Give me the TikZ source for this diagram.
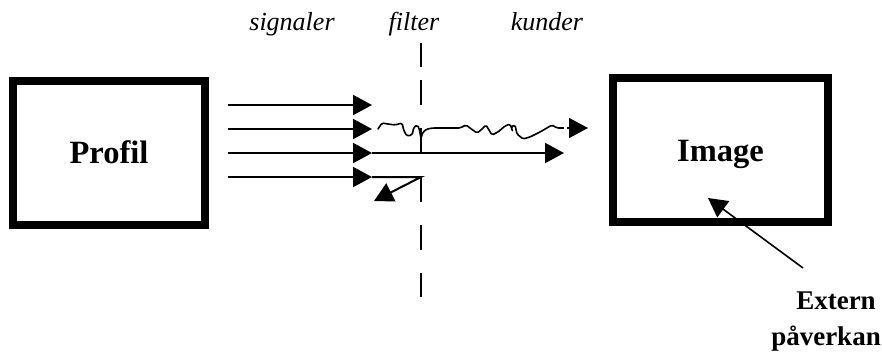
\documentclass[tikz,border=0pt]{standalone}
\usepackage{fontspec}
\setmainfont{Liberation Serif}
\usetikzlibrary{arrows.meta}
\begin{document}
\begin{tikzpicture}[x=1pt,y=-1pt,
  box/.style={draw, line width=8pt, inner sep=0pt},
  big/.style={font=\fontsize{32.5}{32.5}\selectfont\bfseries},
  ext/.style={font=\fontsize{27}{27}\selectfont\bfseries},
  lbl/.style={font=\fontsize{26}{26}\selectfont\itshape, anchor=base},
  sig/.style={line width=2pt, -{Triangle[length=19pt,width=20pt]}},
  filt/.style={line width=2pt}]
\useasboundingbox (0,0) rectangle (882,354);
% boxes
\node[box, minimum width=192pt, minimum height=144pt] (profil) at (109,153) {};
\node[big, anchor=base] (ptext) at (109,163) {Profil};
\node[box, minimum width=215pt, minimum height=144pt] (image) at (720.5,150) {};
\node[big, anchor=base] (itext) at (720.5,161) {Image};
% labels
\node[lbl] (signaler) at (292,30) {signaler};
\node[lbl] (filter) at (414,30) {filter};
\node[lbl] (kunder) at (547,30) {kunder};
\node[ext, anchor=base] (extern) at (836,309) {Extern};
\node[ext, anchor=base] (paverkan) at (826,345) {påverkan};
% filter line
\coordinate (f1a) at (421,43); \coordinate (f1b) at (421,67);
\coordinate (f2a) at (421,80); \coordinate (f2b) at (421,105);
\coordinate (f3a) at (421,128); \coordinate (f3b) at (421,153);
\coordinate (f4a) at (421,177); \coordinate (f4b) at (421,202);
\coordinate (f5a) at (421,225); \coordinate (f5b) at (421,250);
\coordinate (f6a) at (421,273); \coordinate (f6b) at (421,297);
\foreach \i in {1,...,6} {\draw[filt] (f\i a) -- (f\i b);}
% signal arrows
\foreach \n/\y in {1/105,2/129,3/153,4/177} {
  \coordinate (s\n) at (228,\y);
  \coordinate (t\n) at (372,\y);
  \draw[sig] (s\n) -- (t\n);
}
% through arrow
\coordinate (thru) at (564,153);
\draw[sig] (t3) -- (thru);
% reflected arrow
\coordinate (refl) at (374,201);
\draw[sig] (t4) -- (f4a) -- (refl);
% wavy line
\coordinate (w0) at (378,129);
\coordinate (wend) at (561,128);
\coordinate (wtip) at (588,128);
\draw[line width=1.6pt, line join=round, line cap=round, rounded corners=1.5pt]
  (w0) -- (382,123) -- (388,124) -- (395,125) -- (402,123) -- (404,131) -- (407,136)
  -- (412,135) -- (414,127) -- (417,125) -- (419,128) -- (421,138) -- (423,132)
  -- (427,129) -- (433,128) -- (447,128) -- (460,128) -- (466,125) -- (470,128)
  -- (477,133) -- (481,130) -- (486,125) -- (492,135) -- (498,132) -- (505,126)
  -- (510,124) -- (513,132) -- (511,127) -- (515,125) -- (517,134) -- (523,139)
  -- (530,137) -- (540,132) -- (552,125) -- (557,128) -- (wend);
\draw[line width=1.6pt, dash pattern=on 3pt off 3pt, -{Triangle[length=19pt,width=20pt]}]
  (wend) -- (wtip);
% external influence
\coordinate (es) at (803,268);
\coordinate (et) at (708,198);
\draw[line width=1.6pt, -{Triangle[length=19pt,width=20pt]}] (es) -- (et);
\end{tikzpicture}
\end{document}
